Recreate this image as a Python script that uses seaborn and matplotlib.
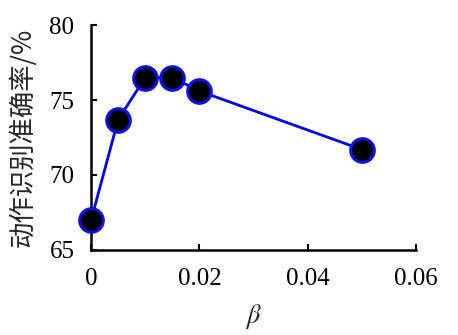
import numpy as np
import pandas as pd
import matplotlib
matplotlib.use('Agg')
import matplotlib.pyplot as plt
import seaborn as sns

# datos
beta = [0, 0.005, 0.01, 0.015, 0.02, 0.05]
precision = [67.0, 73.7, 76.5, 76.5, 75.6, 71.7]
x_ticks = [0, 0.02, 0.04, 0.06]
x_tick_labels = ['0', '0.02', '0.04', '0.06']
y_ticks = [65, 70, 75, 80]

df = pd.DataFrame({'beta': beta, 'precision': precision})

sns.set_theme(style='ticks')
plt.rcParams['font.family'] = ['Liberation Serif', 'Noto Sans CJK SC', 'DejaVu Sans']
plt.rcParams['mathtext.fontset'] = 'stix'

fig = plt.figure(figsize=(4.58, 3.35), dpi=100)
ax = fig.add_axes([0.199, 0.254, 0.709, 0.671])

sns.lineplot(data=df, x='beta', y='precision', ax=ax, color='#0000ff', linewidth=2.0,
             marker='o', markersize=17, markerfacecolor='black',
             markeredgecolor='#1010e0', markeredgewidth=2.2, zorder=3, clip_on=False)

ax.set_xlim(0, 0.06)
ax.set_ylim(65, 80)
ax.set_xticks(x_ticks)
ax.set_xticklabels(x_tick_labels)
ax.set_yticks(y_ticks)
ax.tick_params(axis='both', direction='in', length=4, width=1.5, labelsize=18, colors='black')
ax.tick_params(axis='x', pad=13)
ax.tick_params(axis='y', pad=12)
for s in ['top', 'right']:
    ax.spines[s].set_visible(False)
for s in ['left', 'bottom']:
    ax.spines[s].set_linewidth(1.8)
    ax.spines[s].set_color('black')

ax.set_xlabel(r'$\beta$', fontsize=19, labelpad=9)
ax.set_ylabel('动作识别准确率/%', fontsize=19,
              family=['Noto Sans CJK SC', 'Liberation Serif'], labelpad=9)

plt.savefig('out.png', dpi=100)
plt.close()
